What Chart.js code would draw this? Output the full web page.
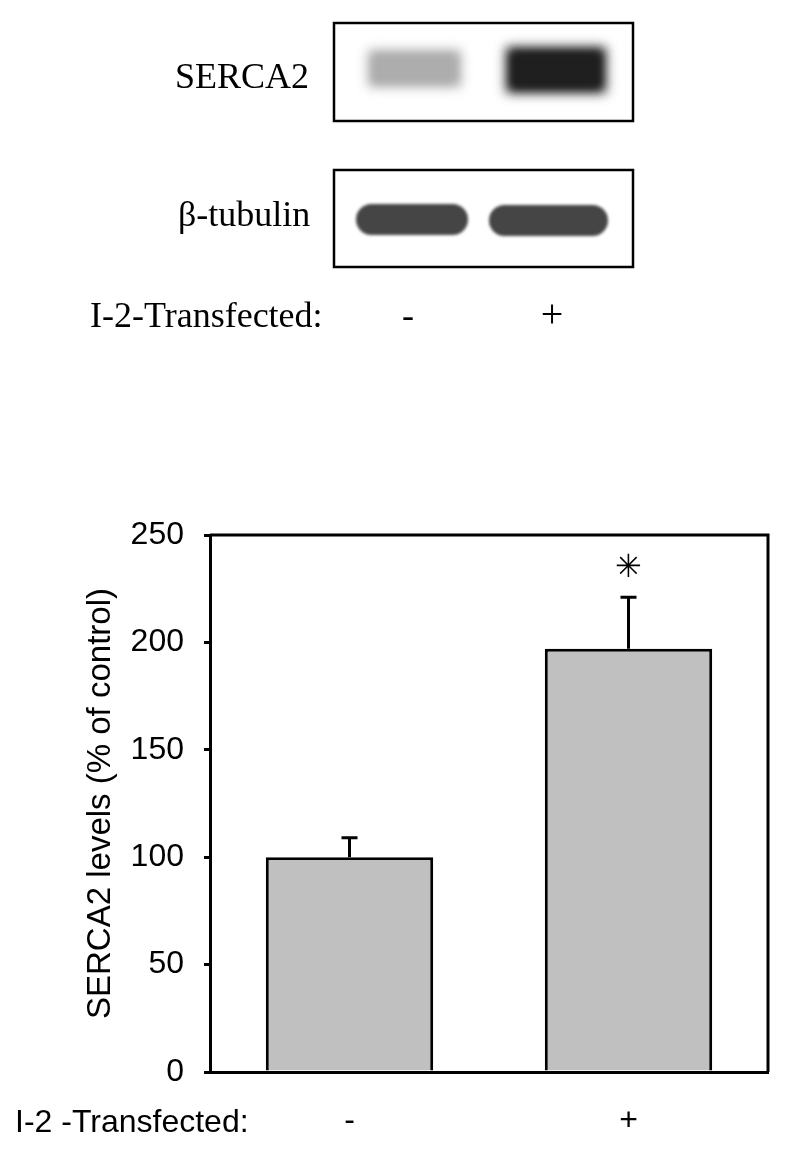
<!DOCTYPE html>
<html>
<head>
<meta charset="utf-8">
<script src="https://cdn.jsdelivr.net/npm/chart.js@4.4.1/dist/chart.umd.min.js"></script>
<style>
    html, body { margin: 0; padding: 0; background: #fff; }
    canvas { display: block; }
</style>
</head>
<body>
<canvas id="serca2-chart" width="797" height="1157"></canvas>
<script>
(function () {
    "use strict";

    // Bar chart data
    const categories = ["-", "+"];
    const serca2Levels = [100, 197];
    const serca2Errors = [9, 24];
    const significance = ["", "✳"];
    const yTicks = [0, 50, 100, 150, 200, 250];

    // Western blot panel (band darkness 0..1 per lane)
    const blotLanes = ["-", "+"];
    const serca2Bands = [0.32, 0.88];
    const tubulinBands = [0.73, 0.73];

    const SANS = "'Liberation Sans', Arial, sans-serif";
    const SERIF = "'Liberation Serif', 'Times New Roman', serif";

    Chart.defaults.font.family = SANS;
    Chart.defaults.color = "#000";

    const gray = (d) => {
        const v = Math.round(255 * (1 - d));
        return "rgb(" + v + "," + v + "," + v + ")";
    };

    const capsule = (ctx, x, y, w, h) => {
        ctx.beginPath();
        ctx.roundRect(x, y, w, h, h / 2);
        ctx.fill();
    };

    // Draws the blot image above the chart, the box, error bars and the star
    const figureExtras = {
        id: "figureExtras",
        beforeDraw(chart) {
            const ctx = chart.ctx;
            ctx.save();
            ctx.fillStyle = "#fff";
            ctx.fillRect(0, 0, chart.width, chart.height);

            // SERCA2 bands (soft, blurred)
            const sercaRects = [[368, 50, 93, 37], [506, 47, 100, 46]];
            sercaRects.forEach((r, i) => {
                ctx.fillStyle = gray(serca2Bands[i]);
                ctx.filter = "blur(6px)";
                ctx.fillRect(r[0], r[1], r[2], r[3]);
                ctx.filter = "blur(4px)";
                ctx.fillRect(r[0] + 6, r[1] + 6, r[2] - 12, r[3] - 12);
            });

            // beta-tubulin bands (rounded capsules)
            ctx.filter = "blur(1.5px)";
            ctx.fillStyle = gray(tubulinBands[0]);
            capsule(ctx, 356, 204, 112, 31);
            ctx.fillStyle = gray(tubulinBands[1]);
            capsule(ctx, 489, 205, 119, 31);
            ctx.filter = "none";

            // blot frames
            ctx.strokeStyle = "#000";
            ctx.lineWidth = 2.5;
            ctx.strokeRect(334, 23, 299, 98);
            ctx.strokeRect(334, 170, 299, 97);

            // blot labels
            ctx.fillStyle = "#000";
            ctx.font = "36px " + SERIF;
            ctx.textAlign = "left";
            ctx.textBaseline = "alphabetic";
            ctx.fillText("SERCA2", 175, 88);
            ctx.fillText("β-tubulin", 178, 226);
            ctx.fillText("I-2-Transfected:", 90, 327);
            ctx.textAlign = "center";
            ctx.fillText(blotLanes[0], 408, 327);
            ctx.font = "40px " + SERIF;
            ctx.fillText(blotLanes[1], 552, 327);
            ctx.restore();
        },
        afterDatasetsDraw(chart) {
            const ctx = chart.ctx;
            const area = chart.chartArea;
            const x = chart.scales.x;
            const y = chart.scales.y;
            ctx.save();

            // top and right frame of the plot
            ctx.strokeStyle = "#000";
            ctx.lineWidth = 3;
            ctx.beginPath();
            ctx.moveTo(area.left, area.top);
            ctx.lineTo(area.right, area.top);
            ctx.lineTo(area.right, area.bottom);
            ctx.stroke();

            // error bars (upper half only)
            serca2Levels.forEach((v, i) => {
                const cx = x.getPixelForValue(i);
                const y0 = y.getPixelForValue(v);
                const y1 = y.getPixelForValue(v + serca2Errors[i]);
                ctx.beginPath();
                ctx.moveTo(cx, y0);
                ctx.lineTo(cx, y1);
                ctx.moveTo(cx - 8, y1);
                ctx.lineTo(cx + 8, y1);
                ctx.stroke();

                if (significance[i]) {
                    ctx.font = "bold 32px 'DejaVu Sans', " + SANS;
                    ctx.textAlign = "center";
                    ctx.textBaseline = "alphabetic";
                    const m = ctx.measureText(significance[i]);
                    const mid = (m.actualBoundingBoxAscent - m.actualBoundingBoxDescent) / 2;
                    ctx.fillStyle = "#000";
                    ctx.fillText(significance[i], cx, y1 - 32 + mid);
                }
            });

            // x-axis caption, same line as the tick labels
            ctx.font = "32px " + SANS;
            ctx.textAlign = "left";
            ctx.textBaseline = "top";
            ctx.fillStyle = "#000";
            ctx.fillText("I-2 -Transfected:", 15, area.bottom + 35);
            ctx.restore();
        },
    };

    const ctx = document.getElementById("serca2-chart").getContext("2d");
    new Chart(ctx, {
        type: "bar",
        data: {
            labels: categories,
            datasets: [
                {
                    label: "SERCA2 levels",
                    data: serca2Levels,
                    backgroundColor: "#c0c0c0",
                    borderColor: "#000",
                    borderWidth: 3,
                    borderSkipped: "start",
                    barPercentage: 0.6,
                    categoryPercentage: 1,
                },
            ],
        },
        options: {
            responsive: false,
            animation: false,
            devicePixelRatio: 1,
            layout: {
                padding: { top: 535, right: 29, bottom: 0, left: 0 },
            },
            plugins: {
                legend: { display: false },
                tooltip: { enabled: false },
            },
            scales: {
                x: {
                    afterFit: (scale) => {
                        scale.height = 85;
                    },
                    ticks: {
                        font: { size: 32 },
                        color: "#000",
                        padding: 22,
                    },
                    grid: { display: false },
                    border: { display: true, color: "#000", width: 3 },
                },
                y: {
                    min: 0,
                    max: 250,
                    afterFit: (scale) => {
                        scale.width = 210;
                    },
                    afterBuildTicks: (scale) => {
                        scale.ticks = yTicks.map((v) => ({ value: v }));
                    },
                    ticks: {
                        font: { size: 32 },
                        color: "#000",
                        padding: 20,
                    },
                    grid: {
                        display: true,
                        drawOnChartArea: false,
                        drawTicks: true,
                        tickLength: 6,
                        color: "#000",
                        lineWidth: 3,
                    },
                    border: { display: true, color: "#000", width: 3 },
                    title: {
                        display: true,
                        text: "SERCA2 levels (% of control)",
                        font: { size: 33 },
                        color: "#000",
                        padding: { top: 81, bottom: 0 },
                    },
                },
            },
        },
        plugins: [figureExtras],
    });
})();
</script>
</body>
</html>
